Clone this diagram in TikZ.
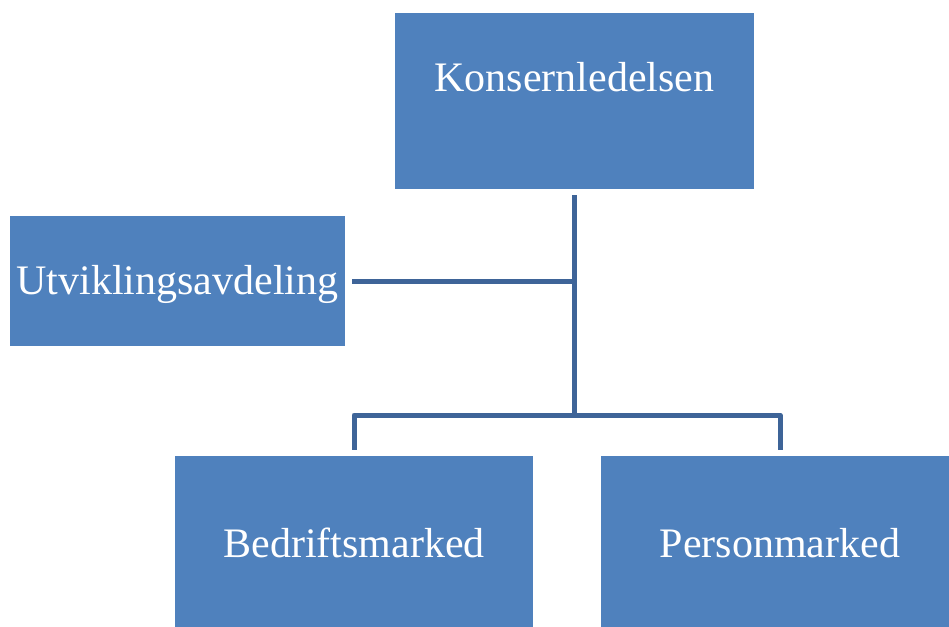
\documentclass[tikz,border=0pt]{standalone}
\usepackage{fontspec}
\setmainfont{Liberation Serif}
\definecolor{unitfill}{RGB}{79,129,189}
\definecolor{linkline}{RGB}{62,100,152}
\begin{document}
\begin{tikzpicture}[x=1pt,y=-1pt,
  unit/.style={fill=unitfill,text=white,inner sep=0pt,
    font=\fontsize{42}{50}\selectfont,text height=27.8pt,text depth=0pt},
  link/.style={draw=linkline,line width=5pt,line join=round}]
\useasboundingbox (0,0) rectangle (949,626);
\node[unit,minimum width=359pt,minimum height=176pt,text depth=46pt] (kl) at (574.5,101) {Konsernledelsen};
\node[unit,minimum width=335pt,minimum height=130pt] (ut) at (177.5,281) {Utviklingsavdeling};
\node[unit,minimum width=358pt,minimum height=176pt] (bm) at (354,544) {Bedriftsmarked};
\node[unit,minimum width=358pt,minimum height=176pt] (pm) at (780,544) {Personmarked};
\coordinate (hub) at (kl.south |- ut.east);
\coordinate (fork) at (kl.south |- 0,415);
\draw[link] ([yshift=-6pt]kl.south) -- (fork);
\draw[link] ([xshift=7pt]ut.east) -- (hub);
\draw[link] ([yshift=6pt]bm.north) |- (fork) -| ([yshift=6pt]pm.north);
\end{tikzpicture}
\end{document}
